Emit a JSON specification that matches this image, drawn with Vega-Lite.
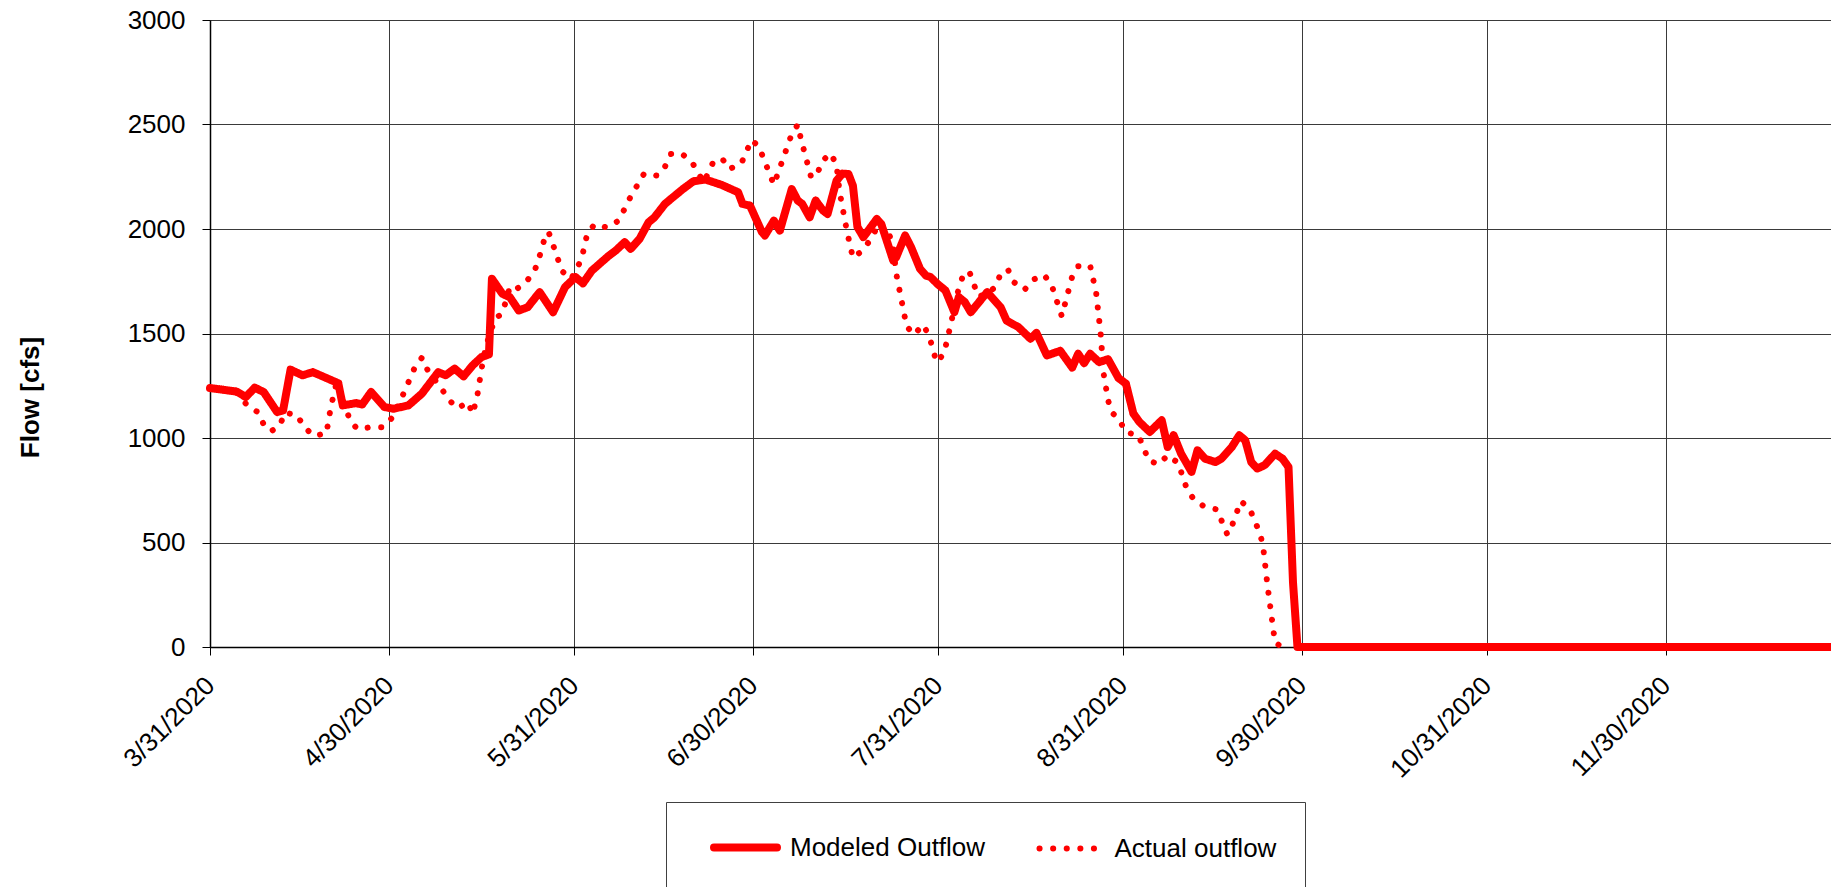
{
  "$schema": "https://vega.github.io/schema/vega-lite/v6.json",
  "usermeta": {"embedOptions": {"actions": false}},
  "autosize": {"type": "none"},
  "width": 1621,
  "height": 627,
  "padding": {"left": 210, "top": 20, "right": 0, "bottom": 240},
  "background": "#ffffff",
  "config": {
    "view": {"stroke": null},
    "font": "Liberation Sans"
  },
  "data": {
    "values": [
      {"date": "2020-03-31T00:00", "flow": 1239, "series": "Modeled Outflow"},
      {"date": "2020-04-04T12:00", "flow": 1222, "series": "Modeled Outflow"},
      {"date": "2020-04-06T00:00", "flow": 1196, "series": "Modeled Outflow"},
      {"date": "2020-04-07T12:00", "flow": 1241, "series": "Modeled Outflow"},
      {"date": "2020-04-09T00:00", "flow": 1220, "series": "Modeled Outflow"},
      {"date": "2020-04-11T06:00", "flow": 1124, "series": "Modeled Outflow"},
      {"date": "2020-04-12T06:00", "flow": 1132, "series": "Modeled Outflow"},
      {"date": "2020-04-13T12:00", "flow": 1327, "series": "Modeled Outflow"},
      {"date": "2020-04-15T12:00", "flow": 1300, "series": "Modeled Outflow"},
      {"date": "2020-04-17T06:00", "flow": 1315, "series": "Modeled Outflow"},
      {"date": "2020-04-19T18:00", "flow": 1284, "series": "Modeled Outflow"},
      {"date": "2020-04-21T12:00", "flow": 1262, "series": "Modeled Outflow"},
      {"date": "2020-04-22T06:00", "flow": 1156, "series": "Modeled Outflow"},
      {"date": "2020-04-24T12:00", "flow": 1167, "series": "Modeled Outflow"},
      {"date": "2020-04-25T12:00", "flow": 1160, "series": "Modeled Outflow"},
      {"date": "2020-04-27T00:00", "flow": 1220, "series": "Modeled Outflow"},
      {"date": "2020-04-29T06:00", "flow": 1148, "series": "Modeled Outflow"},
      {"date": "2020-04-30T18:00", "flow": 1140, "series": "Modeled Outflow"},
      {"date": "2020-05-03T06:00", "flow": 1156, "series": "Modeled Outflow"},
      {"date": "2020-05-05T12:00", "flow": 1212, "series": "Modeled Outflow"},
      {"date": "2020-05-08T06:00", "flow": 1315, "series": "Modeled Outflow"},
      {"date": "2020-05-09T12:00", "flow": 1300, "series": "Modeled Outflow"},
      {"date": "2020-05-11T00:00", "flow": 1332, "series": "Modeled Outflow"},
      {"date": "2020-05-12T12:00", "flow": 1295, "series": "Modeled Outflow"},
      {"date": "2020-05-14T00:00", "flow": 1347, "series": "Modeled Outflow"},
      {"date": "2020-05-15T12:00", "flow": 1387, "series": "Modeled Outflow"},
      {"date": "2020-05-16T18:00", "flow": 1400, "series": "Modeled Outflow"},
      {"date": "2020-05-17T06:00", "flow": 1762, "series": "Modeled Outflow"},
      {"date": "2020-05-19T00:00", "flow": 1690, "series": "Modeled Outflow"},
      {"date": "2020-05-20T06:00", "flow": 1674, "series": "Modeled Outflow"},
      {"date": "2020-05-21T18:00", "flow": 1610, "series": "Modeled Outflow"},
      {"date": "2020-05-23T06:00", "flow": 1626, "series": "Modeled Outflow"},
      {"date": "2020-05-25T06:00", "flow": 1698, "series": "Modeled Outflow"},
      {"date": "2020-05-27T12:00", "flow": 1602, "series": "Modeled Outflow"},
      {"date": "2020-05-29T12:00", "flow": 1722, "series": "Modeled Outflow"},
      {"date": "2020-05-31T06:00", "flow": 1770, "series": "Modeled Outflow"},
      {"date": "2020-06-01T12:00", "flow": 1740, "series": "Modeled Outflow"},
      {"date": "2020-06-03T00:00", "flow": 1801, "series": "Modeled Outflow"},
      {"date": "2020-06-05T18:00", "flow": 1870, "series": "Modeled Outflow"},
      {"date": "2020-06-07T00:00", "flow": 1897, "series": "Modeled Outflow"},
      {"date": "2020-06-08T12:00", "flow": 1937, "series": "Modeled Outflow"},
      {"date": "2020-06-09T12:00", "flow": 1905, "series": "Modeled Outflow"},
      {"date": "2020-06-11T00:00", "flow": 1953, "series": "Modeled Outflow"},
      {"date": "2020-06-12T12:00", "flow": 2032, "series": "Modeled Outflow"},
      {"date": "2020-06-13T12:00", "flow": 2056, "series": "Modeled Outflow"},
      {"date": "2020-06-15T06:00", "flow": 2120, "series": "Modeled Outflow"},
      {"date": "2020-06-16T06:00", "flow": 2144, "series": "Modeled Outflow"},
      {"date": "2020-06-18T06:00", "flow": 2191, "series": "Modeled Outflow"},
      {"date": "2020-06-20T00:00", "flow": 2228, "series": "Modeled Outflow"},
      {"date": "2020-06-22T00:00", "flow": 2237, "series": "Modeled Outflow"},
      {"date": "2020-06-24T18:00", "flow": 2211, "series": "Modeled Outflow"},
      {"date": "2020-06-27T12:00", "flow": 2176, "series": "Modeled Outflow"},
      {"date": "2020-06-28T06:00", "flow": 2120, "series": "Modeled Outflow"},
      {"date": "2020-06-29T12:00", "flow": 2112, "series": "Modeled Outflow"},
      {"date": "2020-07-01T12:00", "flow": 1985, "series": "Modeled Outflow"},
      {"date": "2020-07-02T00:00", "flow": 1969, "series": "Modeled Outflow"},
      {"date": "2020-07-03T12:00", "flow": 2040, "series": "Modeled Outflow"},
      {"date": "2020-07-04T12:00", "flow": 1992, "series": "Modeled Outflow"},
      {"date": "2020-07-06T12:00", "flow": 2191, "series": "Modeled Outflow"},
      {"date": "2020-07-07T12:00", "flow": 2136, "series": "Modeled Outflow"},
      {"date": "2020-07-08T06:00", "flow": 2120, "series": "Modeled Outflow"},
      {"date": "2020-07-09T12:00", "flow": 2056, "series": "Modeled Outflow"},
      {"date": "2020-07-10T12:00", "flow": 2136, "series": "Modeled Outflow"},
      {"date": "2020-07-11T18:00", "flow": 2088, "series": "Modeled Outflow"},
      {"date": "2020-07-12T12:00", "flow": 2072, "series": "Modeled Outflow"},
      {"date": "2020-07-14T00:00", "flow": 2231, "series": "Modeled Outflow"},
      {"date": "2020-07-15T00:00", "flow": 2265, "series": "Modeled Outflow"},
      {"date": "2020-07-16T00:00", "flow": 2263, "series": "Modeled Outflow"},
      {"date": "2020-07-16T18:00", "flow": 2207, "series": "Modeled Outflow"},
      {"date": "2020-07-17T12:00", "flow": 2010, "series": "Modeled Outflow"},
      {"date": "2020-07-18T12:00", "flow": 1961, "series": "Modeled Outflow"},
      {"date": "2020-07-20T18:00", "flow": 2048, "series": "Modeled Outflow"},
      {"date": "2020-07-21T12:00", "flow": 2024, "series": "Modeled Outflow"},
      {"date": "2020-07-23T12:00", "flow": 1849, "series": "Modeled Outflow"},
      {"date": "2020-07-24T00:00", "flow": 1865, "series": "Modeled Outflow"},
      {"date": "2020-07-25T12:00", "flow": 1969, "series": "Modeled Outflow"},
      {"date": "2020-07-26T12:00", "flow": 1913, "series": "Modeled Outflow"},
      {"date": "2020-07-28T00:00", "flow": 1809, "series": "Modeled Outflow"},
      {"date": "2020-07-29T00:00", "flow": 1777, "series": "Modeled Outflow"},
      {"date": "2020-07-29T18:00", "flow": 1770, "series": "Modeled Outflow"},
      {"date": "2020-07-31T00:00", "flow": 1735, "series": "Modeled Outflow"},
      {"date": "2020-08-01T06:00", "flow": 1706, "series": "Modeled Outflow"},
      {"date": "2020-08-02T18:00", "flow": 1602, "series": "Modeled Outflow"},
      {"date": "2020-08-03T12:00", "flow": 1674, "series": "Modeled Outflow"},
      {"date": "2020-08-04T12:00", "flow": 1650, "series": "Modeled Outflow"},
      {"date": "2020-08-05T12:00", "flow": 1602, "series": "Modeled Outflow"},
      {"date": "2020-08-08T06:00", "flow": 1698, "series": "Modeled Outflow"},
      {"date": "2020-08-10T12:00", "flow": 1626, "series": "Modeled Outflow"},
      {"date": "2020-08-11T12:00", "flow": 1562, "series": "Modeled Outflow"},
      {"date": "2020-08-13T12:00", "flow": 1530, "series": "Modeled Outflow"},
      {"date": "2020-08-15T12:00", "flow": 1475, "series": "Modeled Outflow"},
      {"date": "2020-08-16T12:00", "flow": 1503, "series": "Modeled Outflow"},
      {"date": "2020-08-18T06:00", "flow": 1395, "series": "Modeled Outflow"},
      {"date": "2020-08-20T12:00", "flow": 1417, "series": "Modeled Outflow"},
      {"date": "2020-08-22T12:00", "flow": 1337, "series": "Modeled Outflow"},
      {"date": "2020-08-23T12:00", "flow": 1403, "series": "Modeled Outflow"},
      {"date": "2020-08-24T12:00", "flow": 1358, "series": "Modeled Outflow"},
      {"date": "2020-08-25T12:00", "flow": 1403, "series": "Modeled Outflow"},
      {"date": "2020-08-27T00:00", "flow": 1363, "series": "Modeled Outflow"},
      {"date": "2020-08-28T12:00", "flow": 1377, "series": "Modeled Outflow"},
      {"date": "2020-08-30T06:00", "flow": 1287, "series": "Modeled Outflow"},
      {"date": "2020-08-31T12:00", "flow": 1260, "series": "Modeled Outflow"},
      {"date": "2020-09-01T18:00", "flow": 1117, "series": "Modeled Outflow"},
      {"date": "2020-09-02T18:00", "flow": 1077, "series": "Modeled Outflow"},
      {"date": "2020-09-04T12:00", "flow": 1029, "series": "Modeled Outflow"},
      {"date": "2020-09-06T12:00", "flow": 1085, "series": "Modeled Outflow"},
      {"date": "2020-09-07T12:00", "flow": 957, "series": "Modeled Outflow"},
      {"date": "2020-09-08T12:00", "flow": 1013, "series": "Modeled Outflow"},
      {"date": "2020-09-09T18:00", "flow": 925, "series": "Modeled Outflow"},
      {"date": "2020-09-11T12:00", "flow": 838, "series": "Modeled Outflow"},
      {"date": "2020-09-12T12:00", "flow": 941, "series": "Modeled Outflow"},
      {"date": "2020-09-13T18:00", "flow": 901, "series": "Modeled Outflow"},
      {"date": "2020-09-15T12:00", "flow": 885, "series": "Modeled Outflow"},
      {"date": "2020-09-16T12:00", "flow": 901, "series": "Modeled Outflow"},
      {"date": "2020-09-18T06:00", "flow": 957, "series": "Modeled Outflow"},
      {"date": "2020-09-19T12:00", "flow": 1013, "series": "Modeled Outflow"},
      {"date": "2020-09-20T12:00", "flow": 989, "series": "Modeled Outflow"},
      {"date": "2020-09-21T12:00", "flow": 885, "series": "Modeled Outflow"},
      {"date": "2020-09-22T12:00", "flow": 854, "series": "Modeled Outflow"},
      {"date": "2020-09-23T18:00", "flow": 870, "series": "Modeled Outflow"},
      {"date": "2020-09-25T12:00", "flow": 925, "series": "Modeled Outflow"},
      {"date": "2020-09-26T18:00", "flow": 901, "series": "Modeled Outflow"},
      {"date": "2020-09-27T18:00", "flow": 861, "series": "Modeled Outflow"},
      {"date": "2020-09-28T12:00", "flow": 310, "series": "Modeled Outflow"},
      {"date": "2020-09-29T06:00", "flow": 0, "series": "Modeled Outflow"},
      {"date": "2020-12-27T16:00", "flow": 0, "series": "Modeled Outflow"},

      {"date": "2020-03-31T00:00", "flow": 1239, "series": "Actual outflow"},
      {"date": "2020-04-04T12:00", "flow": 1215, "series": "Actual outflow"},
      {"date": "2020-04-06T06:00", "flow": 1156, "series": "Actual outflow"},
      {"date": "2020-04-08T00:00", "flow": 1124, "series": "Actual outflow"},
      {"date": "2020-04-09T00:00", "flow": 1065, "series": "Actual outflow"},
      {"date": "2020-04-10T06:00", "flow": 1032, "series": "Actual outflow"},
      {"date": "2020-04-11T18:00", "flow": 1062, "series": "Actual outflow"},
      {"date": "2020-04-12T12:00", "flow": 1120, "series": "Actual outflow"},
      {"date": "2020-04-14T12:00", "flow": 1112, "series": "Actual outflow"},
      {"date": "2020-04-15T18:00", "flow": 1056, "series": "Actual outflow"},
      {"date": "2020-04-17T06:00", "flow": 1011, "series": "Actual outflow"},
      {"date": "2020-04-19T12:00", "flow": 1021, "series": "Actual outflow"},
      {"date": "2020-04-20T06:00", "flow": 1148, "series": "Actual outflow"},
      {"date": "2020-04-21T06:00", "flow": 1270, "series": "Actual outflow"},
      {"date": "2020-04-23T12:00", "flow": 1081, "series": "Actual outflow"},
      {"date": "2020-04-24T18:00", "flow": 1042, "series": "Actual outflow"},
      {"date": "2020-04-26T18:00", "flow": 1051, "series": "Actual outflow"},
      {"date": "2020-04-29T00:00", "flow": 1051, "series": "Actual outflow"},
      {"date": "2020-04-30T12:00", "flow": 1096, "series": "Actual outflow"},
      {"date": "2020-05-02T12:00", "flow": 1216, "series": "Actual outflow"},
      {"date": "2020-05-04T06:00", "flow": 1333, "series": "Actual outflow"},
      {"date": "2020-05-05T12:00", "flow": 1384, "series": "Actual outflow"},
      {"date": "2020-05-06T12:00", "flow": 1323, "series": "Actual outflow"},
      {"date": "2020-05-09T00:00", "flow": 1228, "series": "Actual outflow"},
      {"date": "2020-05-10T00:00", "flow": 1183, "series": "Actual outflow"},
      {"date": "2020-05-11T12:00", "flow": 1142, "series": "Actual outflow"},
      {"date": "2020-05-13T06:00", "flow": 1172, "series": "Actual outflow"},
      {"date": "2020-05-14T00:00", "flow": 1116, "series": "Actual outflow"},
      {"date": "2020-05-14T18:00", "flow": 1193, "series": "Actual outflow"},
      {"date": "2020-05-15T12:00", "flow": 1330, "series": "Actual outflow"},
      {"date": "2020-05-16T06:00", "flow": 1440, "series": "Actual outflow"},
      {"date": "2020-05-17T18:00", "flow": 1570, "series": "Actual outflow"},
      {"date": "2020-05-19T00:00", "flow": 1597, "series": "Actual outflow"},
      {"date": "2020-05-20T06:00", "flow": 1722, "series": "Actual outflow"},
      {"date": "2020-05-21T06:00", "flow": 1710, "series": "Actual outflow"},
      {"date": "2020-05-22T18:00", "flow": 1741, "series": "Actual outflow"},
      {"date": "2020-05-24T06:00", "flow": 1790, "series": "Actual outflow"},
      {"date": "2020-05-25T00:00", "flow": 1846, "series": "Actual outflow"},
      {"date": "2020-05-26T06:00", "flow": 1972, "series": "Actual outflow"},
      {"date": "2020-05-26T18:00", "flow": 1985, "series": "Actual outflow"},
      {"date": "2020-05-27T12:00", "flow": 1924, "series": "Actual outflow"},
      {"date": "2020-05-29T00:00", "flow": 1798, "series": "Actual outflow"},
      {"date": "2020-05-30T12:00", "flow": 1760, "series": "Actual outflow"},
      {"date": "2020-06-01T06:00", "flow": 1854, "series": "Actual outflow"},
      {"date": "2020-06-02T06:00", "flow": 1981, "series": "Actual outflow"},
      {"date": "2020-06-03T12:00", "flow": 2023, "series": "Actual outflow"},
      {"date": "2020-06-05T12:00", "flow": 2007, "series": "Actual outflow"},
      {"date": "2020-06-07T12:00", "flow": 2040, "series": "Actual outflow"},
      {"date": "2020-06-09T12:00", "flow": 2155, "series": "Actual outflow"},
      {"date": "2020-06-11T18:00", "flow": 2265, "series": "Actual outflow"},
      {"date": "2020-06-14T00:00", "flow": 2255, "series": "Actual outflow"},
      {"date": "2020-06-15T06:00", "flow": 2298, "series": "Actual outflow"},
      {"date": "2020-06-16T06:00", "flow": 2359, "series": "Actual outflow"},
      {"date": "2020-06-18T00:00", "flow": 2362, "series": "Actual outflow"},
      {"date": "2020-06-19T18:00", "flow": 2321, "series": "Actual outflow"},
      {"date": "2020-06-21T18:00", "flow": 2223, "series": "Actual outflow"},
      {"date": "2020-06-23T12:00", "flow": 2330, "series": "Actual outflow"},
      {"date": "2020-06-25T00:00", "flow": 2330, "series": "Actual outflow"},
      {"date": "2020-06-26T00:00", "flow": 2287, "series": "Actual outflow"},
      {"date": "2020-06-28T00:00", "flow": 2311, "series": "Actual outflow"},
      {"date": "2020-06-29T18:00", "flow": 2426, "series": "Actual outflow"},
      {"date": "2020-07-01T00:00", "flow": 2394, "series": "Actual outflow"},
      {"date": "2020-07-03T12:00", "flow": 2212, "series": "Actual outflow"},
      {"date": "2020-07-05T00:00", "flow": 2333, "series": "Actual outflow"},
      {"date": "2020-07-06T12:00", "flow": 2455, "series": "Actual outflow"},
      {"date": "2020-07-07T12:00", "flow": 2499, "series": "Actual outflow"},
      {"date": "2020-07-08T00:00", "flow": 2435, "series": "Actual outflow"},
      {"date": "2020-07-09T18:00", "flow": 2247, "series": "Actual outflow"},
      {"date": "2020-07-10T18:00", "flow": 2260, "series": "Actual outflow"},
      {"date": "2020-07-11T12:00", "flow": 2322, "series": "Actual outflow"},
      {"date": "2020-07-13T00:00", "flow": 2362, "series": "Actual outflow"},
      {"date": "2020-07-14T00:00", "flow": 2308, "series": "Actual outflow"},
      {"date": "2020-07-14T12:00", "flow": 2180, "series": "Actual outflow"},
      {"date": "2020-07-15T18:00", "flow": 1989, "series": "Actual outflow"},
      {"date": "2020-07-16T18:00", "flow": 1862, "series": "Actual outflow"},
      {"date": "2020-07-18T00:00", "flow": 1889, "series": "Actual outflow"},
      {"date": "2020-07-19T12:00", "flow": 1941, "series": "Actual outflow"},
      {"date": "2020-07-21T06:00", "flow": 2030, "series": "Actual outflow"},
      {"date": "2020-07-22T18:00", "flow": 1981, "series": "Actual outflow"},
      {"date": "2020-07-23T12:00", "flow": 1916, "series": "Actual outflow"},
      {"date": "2020-07-24T00:00", "flow": 1788, "series": "Actual outflow"},
      {"date": "2020-07-25T18:00", "flow": 1534, "series": "Actual outflow"},
      {"date": "2020-07-27T00:00", "flow": 1494, "series": "Actual outflow"},
      {"date": "2020-07-28T12:00", "flow": 1542, "series": "Actual outflow"},
      {"date": "2020-07-29T12:00", "flow": 1491, "series": "Actual outflow"},
      {"date": "2020-07-30T18:00", "flow": 1363, "series": "Actual outflow"},
      {"date": "2020-08-01T00:00", "flow": 1403, "series": "Actual outflow"},
      {"date": "2020-08-02T00:00", "flow": 1526, "series": "Actual outflow"},
      {"date": "2020-08-03T12:00", "flow": 1719, "series": "Actual outflow"},
      {"date": "2020-08-04T06:00", "flow": 1781, "series": "Actual outflow"},
      {"date": "2020-08-05T06:00", "flow": 1797, "series": "Actual outflow"},
      {"date": "2020-08-06T18:00", "flow": 1677, "series": "Actual outflow"},
      {"date": "2020-08-08T06:00", "flow": 1690, "series": "Actual outflow"},
      {"date": "2020-08-09T18:00", "flow": 1726, "series": "Actual outflow"},
      {"date": "2020-08-10T12:00", "flow": 1788, "series": "Actual outflow"},
      {"date": "2020-08-11T18:00", "flow": 1805, "series": "Actual outflow"},
      {"date": "2020-08-12T18:00", "flow": 1745, "series": "Actual outflow"},
      {"date": "2020-08-14T12:00", "flow": 1709, "series": "Actual outflow"},
      {"date": "2020-08-16T00:00", "flow": 1758, "series": "Actual outflow"},
      {"date": "2020-08-17T18:00", "flow": 1781, "series": "Actual outflow"},
      {"date": "2020-08-19T00:00", "flow": 1736, "series": "Actual outflow"},
      {"date": "2020-08-20T18:00", "flow": 1583, "series": "Actual outflow"},
      {"date": "2020-08-22T12:00", "flow": 1773, "series": "Actual outflow"},
      {"date": "2020-08-23T12:00", "flow": 1822, "series": "Actual outflow"},
      {"date": "2020-08-25T12:00", "flow": 1825, "series": "Actual outflow"},
      {"date": "2020-08-26T12:00", "flow": 1698, "series": "Actual outflow"},
      {"date": "2020-08-27T06:00", "flow": 1504, "series": "Actual outflow"},
      {"date": "2020-08-27T18:00", "flow": 1311, "series": "Actual outflow"},
      {"date": "2020-08-28T12:00", "flow": 1183, "series": "Actual outflow"},
      {"date": "2020-08-29T00:00", "flow": 1128, "series": "Actual outflow"},
      {"date": "2020-08-30T12:00", "flow": 1081, "series": "Actual outflow"},
      {"date": "2020-08-31T12:00", "flow": 1026, "series": "Actual outflow"},
      {"date": "2020-09-02T12:00", "flow": 1016, "series": "Actual outflow"},
      {"date": "2020-09-03T12:00", "flow": 954, "series": "Actual outflow"},
      {"date": "2020-09-04T06:00", "flow": 893, "series": "Actual outflow"},
      {"date": "2020-09-06T00:00", "flow": 874, "series": "Actual outflow"},
      {"date": "2020-09-07T12:00", "flow": 917, "series": "Actual outflow"},
      {"date": "2020-09-09T06:00", "flow": 881, "series": "Actual outflow"},
      {"date": "2020-09-10T18:00", "flow": 753, "series": "Actual outflow"},
      {"date": "2020-09-12T00:00", "flow": 702, "series": "Actual outflow"},
      {"date": "2020-09-13T18:00", "flow": 670, "series": "Actual outflow"},
      {"date": "2020-09-15T18:00", "flow": 658, "series": "Actual outflow"},
      {"date": "2020-09-17T12:00", "flow": 538, "series": "Actual outflow"},
      {"date": "2020-09-18T06:00", "flow": 578, "series": "Actual outflow"},
      {"date": "2020-09-19T18:00", "flow": 698, "series": "Actual outflow"},
      {"date": "2020-09-21T06:00", "flow": 661, "series": "Actual outflow"},
      {"date": "2020-09-23T00:00", "flow": 541, "series": "Actual outflow"},
      {"date": "2020-09-23T12:00", "flow": 479, "series": "Actual outflow"},
      {"date": "2020-09-24T06:00", "flow": 288, "series": "Actual outflow"},
      {"date": "2020-09-25T12:00", "flow": 20, "series": "Actual outflow"},
      {"date": "2020-09-26T18:00", "flow": 0, "series": "Actual outflow"}
    ]
  },
  "mark": {"type": "line", "strokeCap": "round", "strokeJoin": "round"},
  "encoding": {
    "x": {
      "field": "date",
      "type": "temporal",
      "scale": {
        "domain": [
          {"year": 2020, "month": 3, "date": 31},
          {"year": 2020, "month": 12, "date": 27, "hours": 16}
        ]
      },
      "axis": {
        "title": null,
        "values": [
          {"year": 2020, "month": 3, "date": 31},
          {"year": 2020, "month": 4, "date": 30},
          {"year": 2020, "month": 5, "date": 31},
          {"year": 2020, "month": 6, "date": 30},
          {"year": 2020, "month": 7, "date": 31},
          {"year": 2020, "month": 8, "date": 31},
          {"year": 2020, "month": 9, "date": 30},
          {"year": 2020, "month": 10, "date": 31},
          {"year": 2020, "month": 11, "date": 30}
        ],
        "format": "%-m/%-d/%Y",
        "labelAngle": -45,
        "labelAlign": "right",
        "labelBaseline": "middle",
        "labelPadding": 26,
        "labelFontSize": 26,
        "labelFont": "Liberation Sans",
        "labelColor": "#000000",
        "labelOverlap": false,
        "labelBound": false,
        "labelFlush": false,
        "tickSize": 8,
        "tickColor": "#000000",
        "domainColor": "#000000",
        "domainWidth": 1.5,
        "grid": true,
        "gridColor": "#3a3a3a",
        "gridWidth": 1
      }
    },
    "y": {
      "field": "flow",
      "type": "quantitative",
      "scale": {"domain": [0, 3000], "nice": false},
      "axis": {
        "title": "Flow [cfs]",
        "values": [0, 500, 1000, 1500, 2000, 2500, 3000],
        "format": "d",
        "labelFontSize": 26,
        "labelFont": "Liberation Sans",
        "labelColor": "#000000",
        "labelPadding": 17,
        "tickSize": 8,
        "tickColor": "#000000",
        "domainColor": "#000000",
        "domainWidth": 1.5,
        "grid": true,
        "gridColor": "#3a3a3a",
        "gridWidth": 1,
        "titleFont": "Liberation Sans",
        "titleFontSize": 26,
        "titleFontWeight": "bold",
        "titleColor": "#000000",
        "titleAngle": -90,
        "titleAlign": "center",
        "titleBaseline": "alphabetic",
        "titleX": -172,
        "titleY": 377
      }
    },
    "color": {
      "field": "series",
      "type": "nominal",
      "scale": {"domain": ["Modeled Outflow", "Actual outflow"], "range": ["#ff0000", "#ff0000"]},
      "legend": {
        "title": null,
        "orient": "none",
        "legendX": 456,
        "legendY": 782,
        "direction": "horizontal",
        "strokeColor": "#404040",
        "fillColor": "#ffffff",
        "padding": 28.5,
        "symbolType": "M-2.5,0H2.5",
        "symbolSize": 635,
        "symbolOffset": 34,
        "labelOffset": 27.5,
        "columnPadding": 35.5,
        "labelFontSize": 26,
        "labelFont": "Liberation Sans",
        "labelColor": "#000000",
        "labelLimit": 0,
        "encode": {
          "symbols": {
            "update": {
              "strokeCap": {"value": "round"},
              "strokeWidth": {"signal": "datum.value === 'Modeled Outflow' ? 12 : 6"}
            }
          }
        }
      }
    },
    "strokeDash": {
      "field": "series",
      "type": "nominal",
      "scale": {"domain": ["Modeled Outflow", "Actual outflow"], "range": [[1, 0], [0.1, 13.5]]},
      "legend": {
        "title": null,
        "orient": "none",
        "legendX": 456,
        "legendY": 782,
        "direction": "horizontal",
        "strokeColor": "#404040",
        "fillColor": "#ffffff",
        "padding": 28.5,
        "symbolType": "M-2.5,0H2.5",
        "symbolSize": 635,
        "symbolOffset": 34,
        "labelOffset": 27.5,
        "columnPadding": 35.5,
        "labelFontSize": 26,
        "labelFont": "Liberation Sans",
        "labelColor": "#000000",
        "labelLimit": 0,
        "encode": {
          "symbols": {
            "update": {
              "strokeCap": {"value": "round"},
              "strokeWidth": {"signal": "datum.value === 'Modeled Outflow' ? 12 : 6"}
            }
          }
        }
      }
    },
    "strokeWidth": {
      "field": "series",
      "type": "nominal",
      "scale": {"domain": ["Modeled Outflow", "Actual outflow"], "range": [8, 6]},
      "legend": null
    }
  }
}
